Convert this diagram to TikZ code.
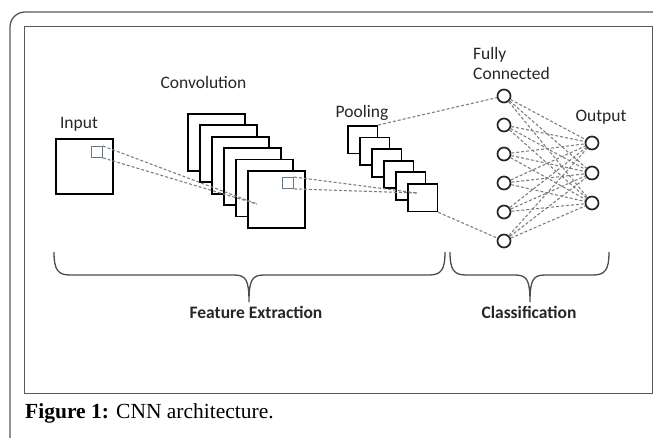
\documentclass[tikz,border=0pt]{standalone}
\usepackage{fontspec}
\setmainfont{Liberation Serif}
\setsansfont{Carlito}
\usepackage{xcolor}
\usepackage{tikz}
\usetikzlibrary{positioning}
\definecolor{patchgray}{RGB}{105,118,132}

\begin{document}
\begin{tikzpicture}[x=1pt, y=-1pt, font=\sffamily\fontsize{17.5}{20}\selectfont,
  lbl/.style={anchor=base, text=black!85, inner sep=0pt},
  fmap/.style={draw=black, line width=1.8pt, fill=white, anchor=north west, inner sep=0pt, minimum width=57pt, minimum height=57pt},
  pmap/.style={fmap, minimum width=29.5pt, minimum height=27.5pt},
  patch/.style={draw=patchgray, line width=0.9pt, anchor=north west, inner sep=0pt, minimum size=11pt},
  neuron/.style={circle, draw=black!85, line width=1.7pt, fill=white, inner sep=0pt, minimum size=13pt},
  conn/.style={gray, line width=1.1pt, dash pattern=on 3pt off 2pt},
  brace/.style={draw=black!70, line width=1.3pt},
  frame/.style={draw=black!65, line width=1.3pt}]
\useasboundingbox (0,0) rectangle (653,437);
\begin{scope}
\clip (0,0) rectangle (653,437);
\draw[frame, rounded corners=15pt] (10,12) rectangle (667,452);
\end{scope}
\draw[frame, line width=1pt] (24,26) rectangle (652,393);

% input
\node[fmap, minimum height=55pt] (input) at (55,138) {};
\node[patch] (inpatch) at (91,146) {};
\node[lbl] (inputlbl) at (79,128) {Input};

% convolution stack
\node[fmap] (conv1) at (187,113) {};
\node[fmap] (conv2) at (199,124.4) {};
\node[fmap] (conv3) at (211,135.8) {};
\node[fmap] (conv4) at (223,147.2) {};
\node[fmap] (conv5) at (235,158.6) {};
\node[fmap] (conv6) at (247,170) {};
\node[patch] (convpatch) at (282,177) {};
\node[lbl] (convlbl) at (203.5,88) {Convolution};
\coordinate (convfocus) at (257,204);
\draw[conn] (inpatch.north east) -- (convfocus); \draw[conn] (inpatch.south east) -- (convfocus);

% pooling stack
\node[pmap] (pool1) at (347,125) {};
\node[pmap] (pool2) at (359,136.6) {};
\node[pmap] (pool3) at (371,148.2) {};
\node[pmap] (pool4) at (383,159.8) {};
\node[pmap] (pool5) at (395,171.4) {};
\node[pmap] (pool6) at (407,183) {};
\node[lbl] (poollbl) at (362,117) {Pooling};
\coordinate (poolfocus) at (417,193);
\draw[conn] (convpatch.north east) -- (poolfocus); \draw[conn] (convpatch.south east) -- (poolfocus);

% fully connected + output
\node[neuron] (fc1) at (504,96) {};
\node[neuron] (fc2) at (504,125) {};
\node[neuron] (fc3) at (504,154) {};
\node[neuron] (fc4) at (504,183) {};
\node[neuron] (fc5) at (504,212) {};
\node[neuron] (fc6) at (504,241) {};
\node[neuron] (out1) at (592,143) {};
\node[neuron] (out2) at (592,173) {};
\node[neuron] (out3) at (592,203) {};
\node[lbl, anchor=base west, align=left] (fclbl) at (473,79) {Fully\\Connected};
\node[lbl] (outlbl) at (601,121) {Output};
\draw[conn] (pool1.north east) -- (fc1); \draw[conn] (pool6.south east) -- (fc6);
\draw[conn] (fc1) -- (out1); \draw[conn] (fc1) -- (out2); \draw[conn] (fc1) -- (out3);
\draw[conn] (fc2) -- (out1); \draw[conn] (fc2) -- (out2); \draw[conn] (fc2) -- (out3);
\draw[conn] (fc3) -- (out1); \draw[conn] (fc3) -- (out2); \draw[conn] (fc3) -- (out3);
\draw[conn] (fc4) -- (out1); \draw[conn] (fc4) -- (out2); \draw[conn] (fc4) -- (out3);
\draw[conn] (fc5) -- (out1); \draw[conn] (fc5) -- (out2); \draw[conn] (fc5) -- (out3);
\draw[conn] (fc6) -- (out1); \draw[conn] (fc6) -- (out2); \draw[conn] (fc6) -- (out3);

% braces
\draw[brace] (54,252) .. controls (54,270) and (58,275) .. (70,275) -- (234,275) .. controls (246,275) and (249,280) .. (249,302)
  .. controls (249,280) and (252,275) .. (264,275) -- (429,275) .. controls (441,275) and (445,270) .. (445,252);
\draw[brace] (450,252) .. controls (450,270) and (454,275) .. (466,275) -- (515,275) .. controls (527,275) and (530,280) .. (530,302)
  .. controls (530,280) and (533,275) .. (545,275) -- (593,275) .. controls (605,275) and (609,270) .. (609,252);
\node[lbl, font=\sffamily\bfseries\fontsize{17.5}{20}\selectfont] (featlbl) at (256,318) {Feature Extraction};
\node[lbl, font=\sffamily\bfseries\fontsize{17.5}{20}\selectfont] (classlbl) at (529,318) {Classification};

\node[anchor=base west, inner sep=0pt, font=\rmfamily\fontsize{21.5}{26}\selectfont] (caption) at (25,418) {\textbf{Figure 1:} CNN architecture.};
\end{tikzpicture}
\end{document}
